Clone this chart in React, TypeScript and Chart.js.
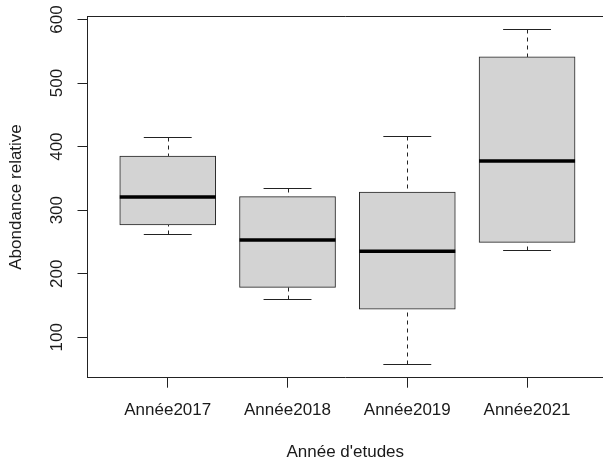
import React, { useEffect, useRef } from 'react';
import { Chart, registerables } from 'chart.js';

Chart.register(...registerables);

const categories = ['Année2017', 'Année2018', 'Année2019', 'Année2021'];
const positions = [1, 2, 3, 4];
const whiskerLow = [262.5, 159.8, 58.3, 237.5];
const quartile1 = [276.6, 178.6, 144.2, 249.4];
const medians = [320.8, 253.1, 235.3, 377.5];
const quartile3 = [385.3, 321.3, 328.6, 541.1];
const whiskerHigh = [414.5, 334.4, 416.6, 584.4];
const yTicks = [100, 200, 300, 400, 500, 600];
const xAxisTitle = "Année d'etudes";
const yAxisTitle = 'Abondance relative';

const LINE = '#222';
const TEXT = '#1a1a1a';

const boxExtras = {
  id: 'boxExtras',
  afterDatasetsDraw(chart: any) {
    const { ctx, scales, chartArea } = chart;
    const x = scales.x;
    const y = scales.y;
    const meta = chart.getDatasetMeta(0);
    ctx.save();
    positions.forEach((p, i) => {
      const el: any = meta.data[i];
      const cx = Math.round(x.getPixelForValue(p)) + 0.5;
      const capL = x.getPixelForValue(p - 0.2);
      const capR = x.getPixelForValue(p + 0.2);
      const yHi = Math.round(y.getPixelForValue(whiskerHigh[i])) + 0.5;
      const yLo = Math.round(y.getPixelForValue(whiskerLow[i])) + 0.5;
      const yQ3 = y.getPixelForValue(quartile3[i]);
      const yQ1 = y.getPixelForValue(quartile1[i]);
      ctx.strokeStyle = LINE;
      ctx.lineWidth = 1;
      // dashed whiskers
      ctx.setLineDash([4, 4]);
      ctx.beginPath();
      ctx.moveTo(cx, yHi);
      ctx.lineTo(cx, yQ3);
      ctx.stroke();
      ctx.beginPath();
      ctx.moveTo(cx, yLo);
      ctx.lineTo(cx, yQ1);
      ctx.stroke();
      ctx.setLineDash([]);
      // staples
      ctx.beginPath();
      ctx.moveTo(capL, yHi);
      ctx.lineTo(capR, yHi);
      ctx.moveTo(capL, yLo);
      ctx.lineTo(capR, yLo);
      ctx.stroke();
      // median
      const yMed = y.getPixelForValue(medians[i]);
      ctx.strokeStyle = '#000';
      ctx.lineWidth = 3.5;
      ctx.beginPath();
      ctx.moveTo(el.x - el.width / 2, yMed);
      ctx.lineTo(el.x + el.width / 2, yMed);
      ctx.stroke();
    });
    // top frame line
    ctx.strokeStyle = LINE;
    ctx.lineWidth = 1;
    const top = Math.round(chartArea.top) + 0.5;
    ctx.beginPath();
    ctx.moveTo(chartArea.left, top);
    ctx.lineTo(chartArea.right + 5, top);
    ctx.stroke();
    ctx.restore();
  },
};

export default function App() {
  const ref = useRef<HTMLCanvasElement>(null);
  useEffect(() => {
    document.body.style.margin = '0';
    document.body.style.overflow = 'hidden';
    Chart.defaults.font.family = "'Liberation Sans', Arial, sans-serif";
    const chart = new Chart(ref.current as HTMLCanvasElement, {
      type: 'bar',
      data: {
        datasets: [
          {
            data: positions.map((p, i) => ({ x: p, y: [quartile1[i], quartile3[i]] })) as any,
            backgroundColor: '#D3D3D3',
            borderColor: LINE,
            borderWidth: 1,
            borderSkipped: false,
            barThickness: 96,
          },
        ],
      },
      options: {
        responsive: false,
        animation: false,
        events: [],
        layout: { padding: { top: 14, left: 0, right: 0, bottom: 0 } },
        plugins: { legend: { display: false }, tooltip: { enabled: false } },
        scales: {
          x: {
            type: 'linear',
            min: 0.33,
            max: 4.634,
            offset: false,
            afterBuildTicks: (s: any) => {
              s.ticks = positions.map((v) => ({ value: v }));
            },
            afterFit: (s: any) => {
              s.height = 85.3;
            },
            ticks: {
              autoSkip: false,
              minRotation: 0,
              maxRotation: 0,
              padding: 12,
              color: TEXT,
              font: { size: 17 },
              callback: (v: any) => {
                const k = positions.indexOf(Number(v));
                return k >= 0 ? categories[k] : '';
              },
            },
            grid: { offset: false, drawOnChartArea: false, drawTicks: true, tickLength: 10, color: LINE },
            border: { display: true, color: LINE },
            title: { display: true, text: xAxisTitle, color: TEXT, font: { size: 17 }, padding: { top: 0, bottom: 0.2 } },
          },
          y: {
            type: 'linear',
            min: 36.4,
            max: 605.2,
            afterBuildTicks: (s: any) => {
              s.ticks = yTicks.map((v) => ({ value: v }));
            },
            afterFit: (s: any) => {
              s.width = 87.5;
            },
            ticks: {
              autoSkip: false,
              minRotation: 90,
              maxRotation: 90,
              crossAlign: 'center',
              padding: 6,
              color: TEXT,
              font: { size: 17 },
            },
            grid: { drawOnChartArea: false, drawTicks: true, tickLength: 10, color: LINE },
            border: { display: true, color: LINE },
            title: { display: true, text: yAxisTitle, color: TEXT, font: { size: 17 }, padding: { top: 6.6, bottom: 0 } },
          },
        },
      } as any,
      plugins: [boxExtras],
    });
    return () => chart.destroy();
  }, []);
  return (
    <div style={{ width: 603, height: 463, background: '#fff' }}>
      <canvas ref={ref} width={603} height={463} style={{ display: 'block' }} />
    </div>
  );
}
